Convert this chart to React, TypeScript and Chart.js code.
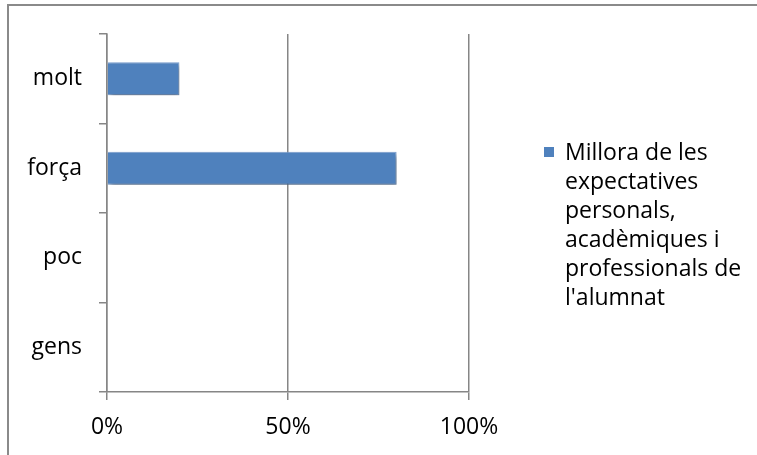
import React, { useEffect, useRef } from "react";
import { Chart, registerables } from "chart.js";

Chart.register(...registerables);

const categories = ["molt", "força", "poc", "gens"];
const seriesValues = [20, 80, 0, 0];
const seriesName = "Millora de les expectatives personals, acadèmiques i professionals de l'alumnat";
const legendLines = ["Millora de les", "expectatives", "personals,", "acadèmiques i", "professionals de", "l'alumnat"];
const xTickValues = [0, 50, 100];

const FONT = "'Open Sans', sans-serif";
const BAR = "#4F81BD";
const AXIS = "#868686";

const framePlugin = {
  id: "frame",
  beforeDraw(chart: any) {
    const c = chart.ctx;
    c.save();
    c.fillStyle = "#ffffff";
    c.fillRect(0, 0, chart.width, chart.height);
    c.fillStyle = "#8a8a8a";
    c.fillRect(7, 4, 2, chart.height - 4);
    c.fillRect(7, 4, chart.width - 7, 2);
    c.restore();
  },
};

const shadowPlugin = {
  id: "barShadow",
  beforeDatasetsDraw(chart: any) {
    const c = chart.ctx;
    c.save();
    c.shadowColor = "rgba(0,0,0,0.42)";
    c.shadowBlur = 5;
    c.shadowOffsetX = 2;
    c.shadowOffsetY = 3;
  },
  afterDatasetsDraw(chart: any) {
    chart.ctx.restore();
  },
};

const legendPlugin = {
  id: "customLegend",
  afterDraw(chart: any) {
    const c = chart.ctx;
    c.save();
    c.fillStyle = BAR;
    c.fillRect(544, 147, 10, 10);
    c.fillStyle = "#000000";
    c.font = `23px ${FONT}`;
    c.textAlign = "left";
    c.textBaseline = "middle";
    legendLines.forEach((line, i) => {
      c.fillText(line, 565, 153 + i * 29);
    });
    c.restore();
  },
};

export default function App() {
  const ref = useRef<HTMLCanvasElement | null>(null);

  useEffect(() => {
    if (!ref.current) return;
    const chart = new Chart(ref.current, {
      type: "bar",
      data: {
        labels: categories,
        datasets: [
          {
            label: seriesName,
            data: seriesValues,
            backgroundColor: BAR,
            borderColor: "#7da3d4",
            borderWidth: (ctx: any) => (ctx.raw > 0 ? 1 : 0),
            barPercentage: 0.37,
            categoryPercentage: 1,
          },
        ],
      },
      options: {
        indexAxis: "y",
        animation: false,
        responsive: false,
        devicePixelRatio: 1,
        layout: { padding: { left: 0, top: 34, right: 288, bottom: 0 } },
        plugins: {
          legend: { display: false },
          tooltip: { enabled: false },
        },
        scales: {
          x: {
            type: "linear",
            min: 0,
            max: 100,
            afterBuildTicks: (scale: any) => {
              scale.ticks = xTickValues.map((v) => ({ value: v }));
            },
            afterFit: (scale: any) => {
              scale.height = 63;
            },
            ticks: {
              callback: (v: any) => `${v}%`,
              color: "#000000",
              font: { family: FONT, size: 23 },
              padding: 14,
              maxRotation: 0,
            },
            grid: {
              color: AXIS,
              lineWidth: 1.5,
              tickLength: 8,
              drawOnChartArea: true,
            },
            border: { display: true, color: AXIS, width: 1.5 },
          },
          y: {
            type: "category",
            afterFit: (scale: any) => {
              scale.width = 107;
            },
            ticks: {
              color: "#000000",
              font: { family: FONT, size: 23 },
              padding: 17,
            },
            grid: {
              offset: true,
              drawOnChartArea: false,
              color: AXIS,
              lineWidth: 1.5,
              tickLength: 8,
            },
            border: { display: true, color: AXIS, width: 1.5 },
          },
        },
      } as any,
      plugins: [framePlugin, shadowPlugin, legendPlugin],
    });
    return () => chart.destroy();
  }, []);

  return (
    <div style={{ position: "fixed", left: 0, top: 0, width: 757, height: 455, background: "#fff" }}>
      <canvas ref={ref} width={757} height={455} style={{ display: "block", width: 757, height: 455 }} />
    </div>
  );
}
